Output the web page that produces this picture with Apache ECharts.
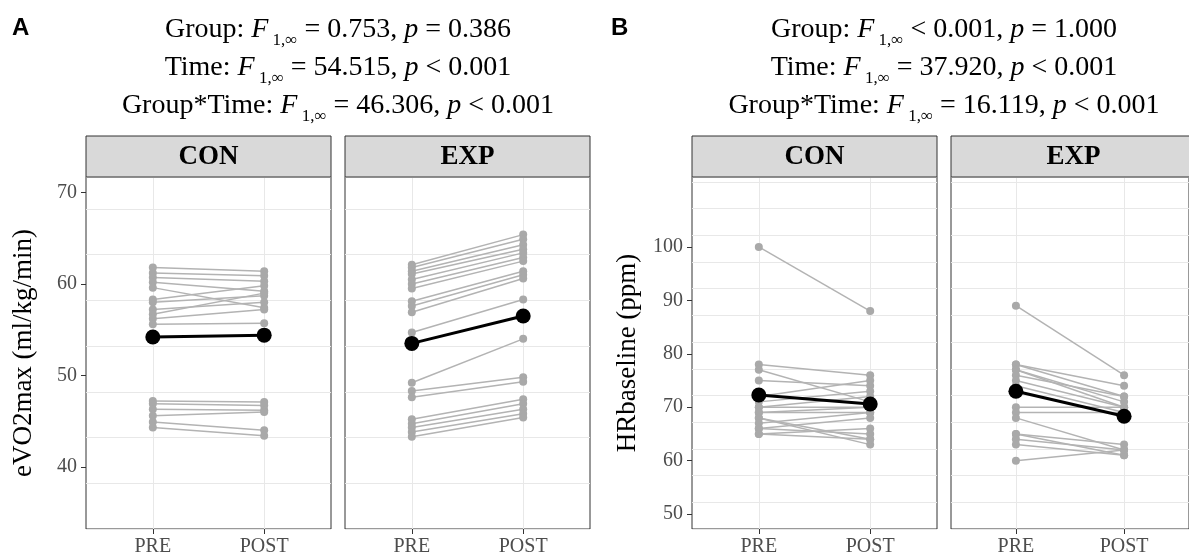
<!DOCTYPE html>
<html>
<head>
<meta charset="utf-8">
<script src="https://cdn.jsdelivr.net/npm/echarts@6/dist/echarts.min.js"></script>
<style>
  html, body { margin: 0; padding: 0; background: #fff; }
  #main { width: 1189px; height: 557px; }
</style>
</head>
<body>
<div id="main"></div>
<script>
// time points
var timeLabels = ["PRE", "POST"];

// A: eVO2max (ml/kg/min)
var vo2ConPre  = [61.8, 61.2, 60.7, 60.2, 59.6, 58.3, 58.0, 57.2, 56.7, 56.2, 55.6, 47.2, 46.9, 46.3, 45.6, 44.9, 44.3];
var vo2ConPost = [61.4, 60.9, 60.3, 59.2, 57.4, 59.8, 58.7, 58.0, 59.0, 57.2, 55.7, 47.1, 46.7, 46.2, 46.0, 44.0, 43.4];
var vo2ExpPre  = [62.1, 61.8, 61.4, 61.1, 60.5, 60.0, 59.5, 58.1, 57.6, 56.9, 54.7, 49.2, 48.3, 47.6, 45.2, 44.7, 44.3, 43.8, 43.3];
var vo2ExpPost = [65.4, 64.9, 64.3, 63.8, 63.4, 62.9, 62.5, 61.4, 61.0, 60.6, 58.3, 54.0, 49.8, 49.3, 47.4, 46.9, 46.3, 45.8, 45.4];
var vo2ConMean = [54.2, 54.4];
var vo2ExpMean = [53.5, 56.5];
var vo2Ticks = [40, 50, 60, 70];

// B: HRbaseline (ppm)
var hrConPre  = [100, 78, 77, 75, 72, 71, 70, 70, 69, 69, 68, 68, 67, 66, 66, 65, 65];
var hrConPost = [88, 76, 71, 74, 75, 73, 72, 70, 70, 69, 64, 63, 69, 68, 65, 66, 64];
var hrExpPre  = [89, 78, 78, 77, 77, 76, 75, 74, 70, 69, 68, 65, 65, 64, 63, 60];
var hrExpPost = [76, 74, 72, 71, 70, 72, 70, 69, 70, 69, 62, 63, 61, 62, 61, 62];
var hrConMean = [72.3, 70.6];
var hrExpMean = [73.0, 68.3];
var hrTicks = [50, 60, 70, 80, 90, 100];

var serif = "Liberation Serif";
var gridLeft = [86, 345, 692, 951];
var panels = [
  { pre: vo2ConPre, post: vo2ConPost, mean: vo2ConMean, min: 33.2, max: 71.7, ticks: vo2Ticks, name: "eVO2max (ml/kg/min)", gap: 49, strip: "CON" },
  { pre: vo2ExpPre, post: vo2ExpPost, mean: vo2ExpMean, min: 33.2, max: 71.7, ticks: vo2Ticks, name: "", gap: 0, strip: "EXP" },
  { pre: hrConPre, post: hrConPost, mean: hrConMean, min: 47.2, max: 113.1, ticks: hrTicks, name: "HRbaseline (ppm)", gap: 51, strip: "CON" },
  { pre: hrExpPre, post: hrExpPost, mean: hrExpMean, min: 47.2, max: 113.1, ticks: hrTicks, name: "", gap: 0, strip: "EXP" }
];

var grids = [], xAxes = [], yAxes = [], gridAxes = [], series = [], graphics = [];

panels.forEach(function (p, g) {
  grids.push({ left: gridLeft[g], top: 177, width: 245, height: 353, show: true, borderColor: "#333", borderWidth: 1, backgroundColor: "#fff" });
  xAxes.push({
    type: "value", gridIndex: g, min: 0.4, max: 2.6, interval: 1,
    axisLine: { show: false },
    axisTick: { show: true, customValues: [1, 2], length: 5, lineStyle: { color: "#333" } },
    axisLabel: { customValues: [1, 2], formatter: function (v) { return timeLabels[v - 1] || ""; }, color: "#4d4d4d", fontFamily: serif, fontSize: 20, margin: 8 },
    splitLine: { show: true, lineStyle: { color: "#e8e8e8", width: 1 } }
  });
  yAxes.push({
    type: "value", gridIndex: g, min: p.min, max: p.max,
    axisLine: { show: false },
    axisTick: { show: g % 2 === 0, customValues: p.ticks, length: 5, lineStyle: { color: "#333" } },
    axisLabel: { show: g % 2 === 0, customValues: p.ticks, color: "#4d4d4d", fontFamily: serif, fontSize: 20, margin: 9 },
    splitLine: { show: false },
    name: p.name, nameLocation: "middle", nameGap: p.gap,
    nameTextStyle: { color: "#000", fontFamily: serif, fontSize: 27 }
  });
  // background grid every 5 units (major + minor lines)
  gridAxes.push({
    type: "value", gridIndex: g, min: p.min, max: p.max, interval: 5,
    axisLine: { show: false }, axisTick: { show: false }, axisLabel: { show: false },
    splitLine: { show: true, lineStyle: { color: "#e8e8e8", width: 1 } }
  });
  for (var i = 0; i < p.pre.length; i++) {
    series.push({
      type: "line", xAxisIndex: g, yAxisIndex: g, silent: true, animation: false,
      data: [[1, p.pre[i]], [2, p.post[i]]],
      symbol: "circle", symbolSize: 8, z: 2,
      itemStyle: { color: "#a9a9a9" },
      lineStyle: { color: "#b3b3b3", width: 1.5 }
    });
  }
  series.push({
    type: "line", xAxisIndex: g, yAxisIndex: g, silent: true, animation: false,
    data: [[1, p.mean[0]], [2, p.mean[1]]],
    symbol: "circle", symbolSize: 15, z: 3,
    itemStyle: { color: "#000" },
    lineStyle: { color: "#000", width: 3 }
  });
  // facet strip
  graphics.push({
    type: "rect", shape: { x: gridLeft[g], y: 136, width: 245, height: 41 },
    style: { fill: "#d9d9d9", stroke: "#333", lineWidth: 1 }, z: 10
  });
  graphics.push({
    type: "text", x: gridLeft[g] + 122.5, y: 157, z: 11,
    style: { text: p.strip, fill: "#000", font: "bold 27px " + serif, textAlign: "center", textVerticalAlign: "middle" }
  });
});

function statTitle(cx, l1, l2, l3) {
  return {
    type: "text", x: cx, y: 11, z: 11,
    style: {
      text: l1 + "\n" + l2 + "\n" + l3,
      fill: "#000", fontFamily: serif, fontSize: 28, lineHeight: 38,
      textAlign: "center", textVerticalAlign: "top",
      rich: {
        i: { fontFamily: serif, fontSize: 28, fontStyle: "italic", lineHeight: 38 },
        s: { fontFamily: serif, fontSize: 17, lineHeight: 20, verticalAlign: "bottom" }
      }
    }
  };
}

graphics.push(statTitle(338,
  "Group: {i|F}{s| 1,∞} = 0.753, {i|p} = 0.386",
  "Time: {i|F}{s| 1,∞} = 54.515, {i|p} < 0.001",
  "Group*Time: {i|F}{s| 1,∞} = 46.306, {i|p} < 0.001"));
graphics.push(statTitle(944,
  "Group: {i|F}{s| 1,∞} < 0.001, {i|p} = 1.000",
  "Time: {i|F}{s| 1,∞} = 37.920, {i|p} < 0.001",
  "Group*Time: {i|F}{s| 1,∞} = 16.119, {i|p} < 0.001"));
graphics.push({ type: "text", x: 12, y: 28, style: { text: "A", fill: "#000", font: "bold 24px Liberation Sans", textVerticalAlign: "middle" } });
graphics.push({ type: "text", x: 611, y: 28, style: { text: "B", fill: "#000", font: "bold 24px Liberation Sans", textVerticalAlign: "middle" } });

var chart = echarts.init(document.getElementById("main"));
var option = {
  backgroundColor: "#fff",
  animation: false,
  grid: grids,
  xAxis: xAxes,
  yAxis: yAxes.concat(gridAxes),
  series: series,
  graphic: graphics
};
chart.setOption(option);
</script>
</body>
</html>
